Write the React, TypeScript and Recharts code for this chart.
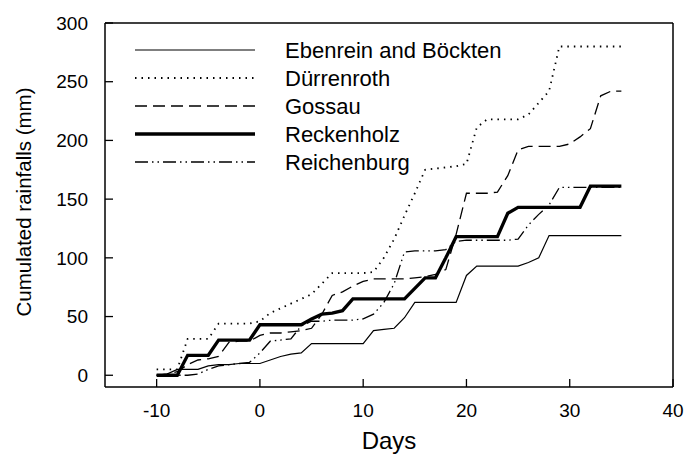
import React from 'react'
import { LineChart, Line, XAxis, YAxis, Legend } from 'recharts'

const days = [
  -10, -9, -8, -7, -6, -5, -4, -3, -2, -1, 0, 1, 2, 3, 4, 5, 6, 7, 8, 9, 10, 11, 12, 13, 14, 15, 16,
  17, 18, 19, 20, 21, 22, 23, 24, 25, 26, 27, 28, 29, 30, 31, 32, 33, 34, 35,
]

const ebenrein = [
  0, 1, 5, 5, 5, 8, 9, 9, 10, 10, 10, 13, 16, 18, 19, 27, 27, 27, 27, 27, 27, 38, 39, 40, 49, 62,
  62, 62, 62, 62, 85, 93, 93, 93, 93, 93, 96, 100, 119, 119, 119, 119, 119, 119, 119, 119,
]
const durrenroth = [
  5, 5, 5, 31, 31, 31, 44, 44, 44, 44, 46, 53, 57, 61, 65, 69, 78, 87, 87, 87, 87, 88, 100, 116,
  136, 155, 175, 176, 177, 178, 180, 211, 218, 218, 218, 218, 222, 232, 242, 280, 280, 280, 280,
  280, 280, 280,
]
const gossau = [
  0, 1, 3, 9, 13, 14, 16, 28, 29, 29, 34, 36, 36, 37, 38, 40, 52, 68, 71, 76, 80, 82, 82, 82, 82,
  83, 84, 86, 90, 120, 155, 155, 155, 156, 170, 192, 195, 195, 195, 195, 197, 203, 210, 238, 242,
  242,
]
const reckenholz = [
  0, 0, 0, 17, 17, 17, 30, 30, 30, 30, 43, 43, 43, 43, 43, 48, 52, 53, 55, 65, 65, 65, 65, 65, 65,
  74, 83, 83, 100, 118, 118, 118, 118, 118, 138, 143, 143, 143, 143, 143, 143, 143, 161, 161, 161,
  161,
]
const reichenburg = [
  0, 0, 0, 0, 1, 5, 8, 9, 10, 11, 19, 29, 30, 31, 42, 46, 46, 47, 47, 47, 48, 52, 62, 78, 105, 106,
  106, 106, 107, 114, 115, 115, 115, 115, 115, 116, 128, 137, 145, 160, 160, 160, 160, 160, 160,
  160,
]

const xTicks = [-10, 0, 10, 20, 30, 40]
const yTicks = [0, 50, 100, 150, 200, 250, 300]

const series = [
  { key: 'ebenrein', name: 'Ebenrein and Böckten', width: 1.2, dash: undefined },
  { key: 'durrenroth', name: 'Dürrenroth', width: 1.8, dash: '1.5 5' },
  { key: 'gossau', name: 'Gossau', width: 1.3, dash: '12 6' },
  { key: 'reckenholz', name: 'Reckenholz', width: 3.3, dash: undefined },
  { key: 'reichenburg', name: 'Reichenburg', width: 1.3, dash: '13 4 1.5 4 1.5 4' },
]

const data = days.map((day, i) => ({
  day,
  ebenrein: ebenrein[i],
  durrenroth: durrenroth[i],
  gossau: gossau[i],
  reckenholz: reckenholz[i],
  reichenburg: reichenburg[i],
}))

const FONT = '"Liberation Sans", Arial, sans-serif'

const LegendBox = () => (
  <svg width={420} height={150} style={{ display: 'block', overflow: 'visible' }}>
    {series.map((s, i) => {
      const y = 20 + i * 28
      return (
        <g key={s.key}>
          <line x1={15} x2={135} y1={y} y2={y} stroke='#000' strokeWidth={s.width} strokeDasharray={s.dash} />
          <text x={165} y={y} dy='0.35em' fontSize={22} fontFamily={FONT} fill='#000'>
            {s.name}
          </text>
        </g>
      )
    })}
  </svg>
)

const XTitle = (props: any) => {
  const vb = props.viewBox || { x: 105, y: 387, width: 568, height: 70 }
  return (
    <text x={vb.x + vb.width / 2} y={vb.y + 62} textAnchor='middle' fontSize={24} fontFamily={FONT} fill='#000'>
      Days
    </text>
  )
}

const YTitle = (props: any) => {
  const vb = props.viewBox || { x: 0, y: 23, width: 105, height: 364 }
  const cx = vb.x + 31
  const cy = vb.y + vb.height / 2 - 3
  return (
    <text x={cx} y={cy} transform={`rotate(-90 ${cx} ${cy})`} textAnchor='middle' fontSize={20.5} fontFamily={FONT} fill='#000'>
      Cumulated rainfalls (mm)
    </text>
  )
}

const tickStyle = { fontSize: 19, fontFamily: FONT, fill: '#000' }
const axisLine = { stroke: '#000', strokeWidth: 1.5 }
const tickLine = { stroke: '#000', strokeWidth: 1.3 }

export default function App() {
  return (
    <div style={{ position: 'absolute', left: 0, top: 0, background: '#fff' }}>
      <LineChart width={686} height={457} data={data} margin={{ top: 0, right: 0, bottom: 0, left: 0 }}>
        <XAxis
          dataKey='day'
          type='number'
          domain={[-15, 40]}
          ticks={xTicks}
          allowDataOverflow
          height={70}
          tickSize={-8}
          tickMargin={25}
          tick={tickStyle}
          axisLine={axisLine}
          tickLine={tickLine}
          label={<XTitle />}
        />
        <XAxis
          xAxisId='top'
          orientation='top'
          type='number'
          domain={[-15, 40]}
          ticks={xTicks}
          allowDataOverflow
          height={23}
          tick={false}
          tickLine={false}
          axisLine={axisLine}
        />
        <YAxis
          type='number'
          domain={[-10, 300]}
          ticks={yTicks}
          allowDataOverflow
          width={105}
          tickSize={-8}
          tickMargin={25}
          tick={tickStyle}
          axisLine={axisLine}
          tickLine={tickLine}
          label={<YTitle />}
        />
        <YAxis
          yAxisId='right'
          orientation='right'
          type='number'
          domain={[-10, 300]}
          ticks={yTicks}
          allowDataOverflow
          width={13}
          tickSize={-8}
          tick={false}
          axisLine={axisLine}
          tickLine={tickLine}
        />
        {series.map((s) => (
          <Line
            key={s.key}
            type='linear'
            dataKey={s.key}
            name={s.name}
            stroke='#000'
            strokeWidth={s.width}
            strokeDasharray={s.dash}
            dot={false}
            activeDot={false}
            isAnimationActive={false}
          />
        ))}
        <Legend
          layout='vertical'
          align='center'
          verticalAlign='middle'
          content={() => <LegendBox />}
          wrapperStyle={{ left: 120, top: 30, width: 420, height: 150 }}
        />
      </LineChart>
    </div>
  )
}
